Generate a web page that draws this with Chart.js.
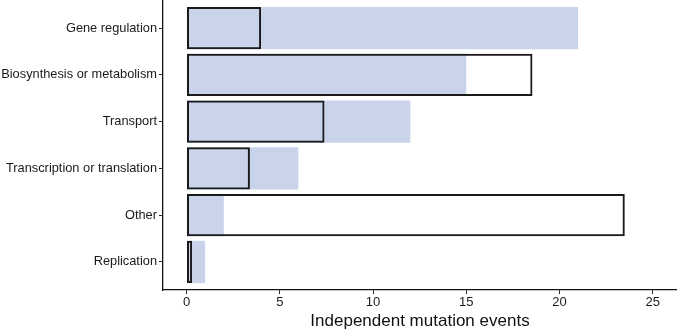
<!DOCTYPE html>
<html>
<head>
<meta charset="utf-8">
<script src="https://cdn.jsdelivr.net/npm/chart.js@4/dist/chart.umd.min.js"></script>
<style>
  body { margin: 0; background: #fff; }
  #wrap { width: 677px; height: 333px; }
</style>
</head>
<body>
<div id="wrap"><canvas id="bars"></canvas></div>
<script>
// categories, top to bottom
const categories = ["Gene regulation", "Biosynthesis or metabolism", "Transport",
  "Transcription or translation", "Other", "Replication"];
// filled bars (observed)
const observed = [21, 15, 12, 6, 2, 1];
// outlined bars (expected)
const expected = [4, 18.55, 7.4, 3.4, 23.5, 0.3];
const xTicks = [0, 5, 10, 15, 20, 25];

const font = "'Liberation Sans', Arial, sans-serif";
const toPoints = vals => vals.map((v, i) => ({ x: v, y: i }));

const ctx = document.getElementById("bars").getContext("2d");
new Chart(ctx, {
  type: 'bar',
  data: {
    datasets: [
      {
        label: "expected",
        data: toPoints(expected),
        backgroundColor: "rgba(0, 0, 0, 0)",
        borderColor: "#1a1a1a",
        borderWidth: 2,
        borderSkipped: false,
        order: 0,
      },
      {
        label: "observed",
        data: toPoints(observed),
        backgroundColor: "#c9d4ea",
        borderWidth: 0,
        order: 1,
      },
    ],
  },
  options: {
    indexAxis: 'y',
    responsive: true,
    maintainAspectRatio: false,
    animation: false,
    grouped: false,
    categoryPercentage: 1,
    barPercentage: 0.905,
    layout: { padding: 0 },
    plugins: {
      legend: { display: false },
      tooltip: { enabled: false },
    },
    scales: {
      y: {
        type: 'linear',
        reverse: true,
        offset: false,
        min: -0.6,
        max: 5.6,
        afterBuildTicks: axis => { axis.ticks = categories.map((c, i) => ({ value: i })); },
        afterFit: axis => {
          axis.width = 163;
          axis.paddingTop = 0;
          axis.paddingBottom = 0;
        },
        grid: { offset: false, drawOnChartArea: false, drawTicks: true, tickLength: 4, color: '#222', lineWidth: 1 },
        border: { display: true, color: '#111', width: 1.3 },
        ticks: {
          color: '#1a1a1a',
          padding: 2,
          font: { family: font, size: 12.8 },
          callback: v => categories[v],
        },
      },
      x: {
        type: 'linear',
        min: -1.26,
        max: 26.3,
        afterBuildTicks: axis => { axis.ticks = xTicks.map(v => ({ value: v })); },
        afterFit: axis => {
          axis.height = 43;
          axis.paddingLeft = 0;
          axis.paddingRight = 0;
        },
        grid: { drawOnChartArea: false, drawTicks: true, tickLength: 4, color: '#222', lineWidth: 1 },
        border: { display: true, color: '#111', width: 1.3 },
        ticks: {
          color: '#1a1a1a',
          padding: 1,
          maxRotation: 0,
          font: { family: font, size: 13 },
        },
        title: {
          display: true,
          text: "Independent mutation events",
          color: '#111',
          font: { family: font, size: 17 },
          padding: { top: 0, bottom: 1 },
        },
      },
    },
  },
});
</script>
</body>
</html>
